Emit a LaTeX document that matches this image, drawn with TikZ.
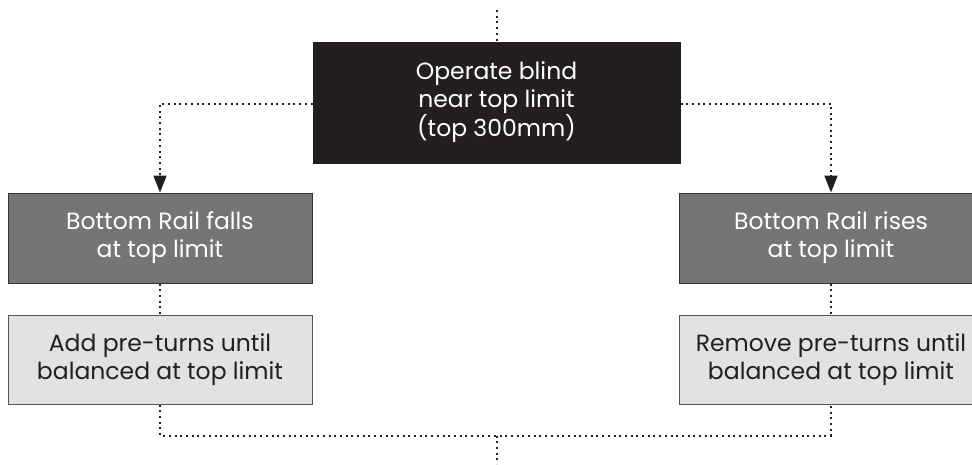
\documentclass[tikz,border=0pt]{standalone}
\usepackage{fontspec}
\setmainfont{Poppins}
\usetikzlibrary{arrows.meta}
\definecolor{topfill}{HTML}{231F20}
\definecolor{midfill}{HTML}{757575}
\definecolor{midline}{HTML}{333333}
\definecolor{lowfill}{HTML}{E1E2E4}
\definecolor{lowline}{HTML}{555555}
\definecolor{inktext}{HTML}{231F20}
\tikzset{
  boxbase/.style={rectangle, inner sep=0pt, align=center, font=\fontsize{23.5}{28}\selectfont, line width=1pt},
  topbox/.style={boxbase, fill=topfill, draw=topfill, text=white, minimum width=367pt, minimum height=121pt},
  midbox/.style={boxbase, fill=midfill, draw=midline, text=white, minimum width=304pt, minimum height=90pt},
  lowbox/.style={boxbase, fill=lowfill, draw=lowline, text=inktext, minimum width=304pt, minimum height=89pt},
  dotline/.style={draw=inktext, line width=2pt, dash pattern=on 2pt off 3.7pt},
  tip/.style={-{Triangle[width=13pt,length=17pt]}}
}
\begin{document}
\begin{tikzpicture}[x=1pt,y=-1pt]
\useasboundingbox (0,0) rectangle (972,464);
\node[topbox] (op) at (496.5,102.5) {Operate blind\\near top limit\\(top 300mm)};
\node[midbox] (falls) at (160,238) {Bottom Rail falls\\at top limit};
\node[midbox] (rises) at (831,238) {Bottom Rail rises\\at top limit};
\node[lowbox] (add) at (160,359.5) {Add pre-turns until\\balanced at top limit};
\node[lowbox] (rem) at (831,359.5) {Remove pre-turns until\\balanced at top limit};
\coordinate (in) at (496.5,10);
\coordinate (out) at (496.5,464);
\coordinate (join) at (496.5,435.5);
\draw[dotline] (in) -- (op.north);
\draw[dotline,tip] ([yshift=-1pt]op.west) -| (falls.north);
\draw[dotline,tip] ([yshift=-1pt]op.east) -| (rises.north);
\draw[dotline] (falls.south) -- (add.north);
\draw[dotline] (rises.south) -- (rem.north);
\draw[dotline] (add.south) |- (join) -| (rem.south);
\draw[dotline] (join) -- (out);
\end{tikzpicture}
\end{document}
